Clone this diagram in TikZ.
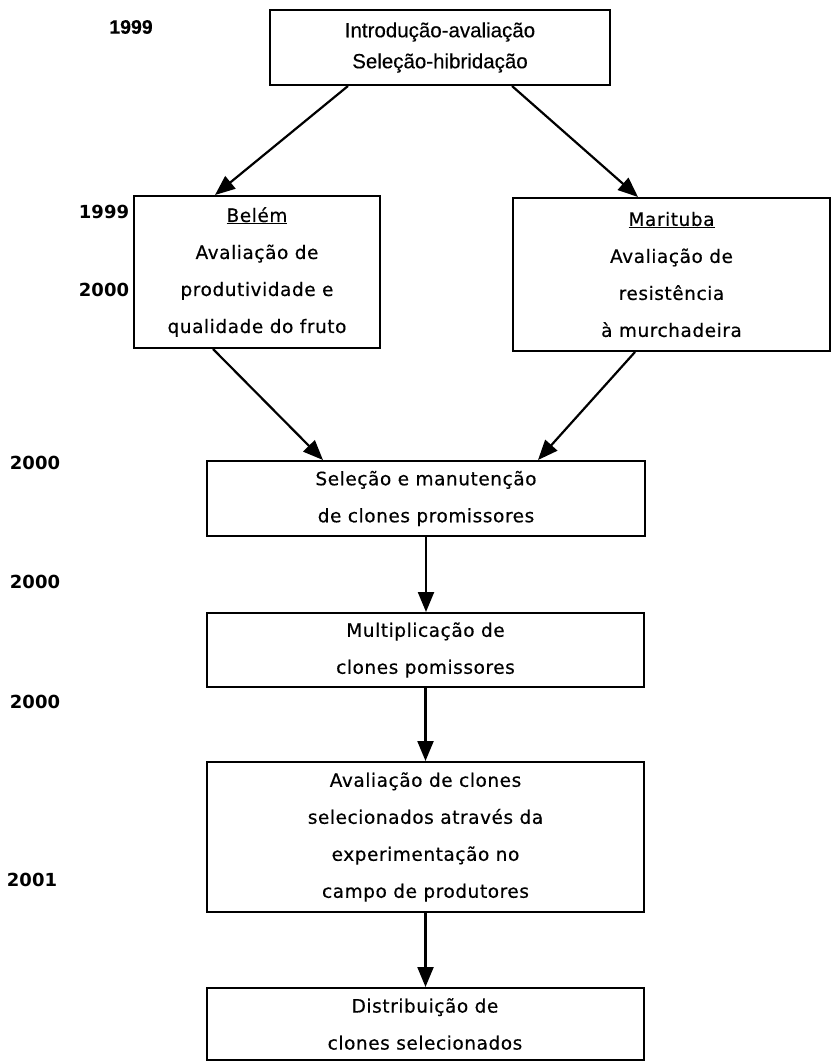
\documentclass[tikz,border=0pt]{standalone}
\usepackage{fontspec}
\setmainfont[FakeBold=0.5]{DejaVu Sans}
\newfontfamily\headfont[FakeBold=0.3]{Liberation Sans}
\newfontfamily\yearfont{DejaVu Sans}
\usetikzlibrary{arrows.meta}

\begin{document}
\begin{tikzpicture}[x=1pt,y=-1pt,
  stage/.style={draw, line width=2pt, inner sep=0pt, align=center,
    font=\fontsize{18.5}{37}\selectfont\addfontfeature{LetterSpace=3}},
  yearlbl/.style={inner sep=0pt, font=\yearfont\bfseries\fontsize{18}{20}\selectfont},
  flow/.style={line width=2.2pt, -{Triangle[length=20pt,width=16pt]}}]
\useasboundingbox (0,0) rectangle (832,1062);

% process boxes
\node[stage, minimum width=340pt, minimum height=75pt,
      font=\headfont\fontsize{20.5}{31}\selectfont] (intro) at (440,47.5)
  {Introdução-avaliação\\Seleção-hibridação};
\node[stage, minimum width=246pt, minimum height=152pt] (belem) at (257,272)
  {\underline{Belém}\\Avaliação de\\produtividade e\\qualidade do fruto};
\node[stage, minimum width=317pt, minimum height=153pt] (marit) at (671.5,274.5)
  {\underline{Marituba}\\Avaliação de\\resistência\\à murchadeira};
\node[stage, minimum width=438pt, minimum height=75pt] (selec) at (426,498.5)
  {Seleção e manutenção\\de clones promissores};
\node[stage, minimum width=437pt, minimum height=74pt] (multi) at (425.5,650)
  {Multiplicação de\\clones pomissores};
\node[stage, minimum width=437pt, minimum height=150pt] (aval) at (425.5,837)
  {Avaliação de clones\\selecionados através da\\experimentação no\\campo de produtores};
\node[stage, minimum width=437pt, minimum height=72pt] (distr) at (425,1024)
  {Distribuição de\\clones selecionados};

% connectors
\draw[flow] ([xshift=-92pt]intro.south) -- ([xshift=-42pt]belem.north);
\draw[flow] ([xshift=72pt]intro.south) -- ([xshift=-33.5pt]marit.north);
\draw[flow] ([xshift=-44pt]belem.south) -- ([xshift=-103pt]selec.north);
\draw[flow] ([xshift=-36.5pt]marit.south) -- ([xshift=112pt]selec.north);
\draw[flow] (selec.south) -- (selec.south |- multi.north);
\draw[flow] (multi.south) -- (multi.south |- aval.north);
\draw[flow] (aval.south) -- (aval.south |- distr.north);

% years
\node[yearlbl, font=\headfont\bfseries\fontsize{19.5}{20}\selectfont] (y0) at (131,27) {1999};
\node[yearlbl] (y1) at (104,212) {1999};
\node[yearlbl] (y2) at (104,290) {2000};
\node[yearlbl] (y3) at (35,463) {2000};
\node[yearlbl] (y4) at (35,582) {2000};
\node[yearlbl] (y5) at (35,702) {2000};
\node[yearlbl] (y6) at (32,880) {2001};
\end{tikzpicture}
\end{document}
